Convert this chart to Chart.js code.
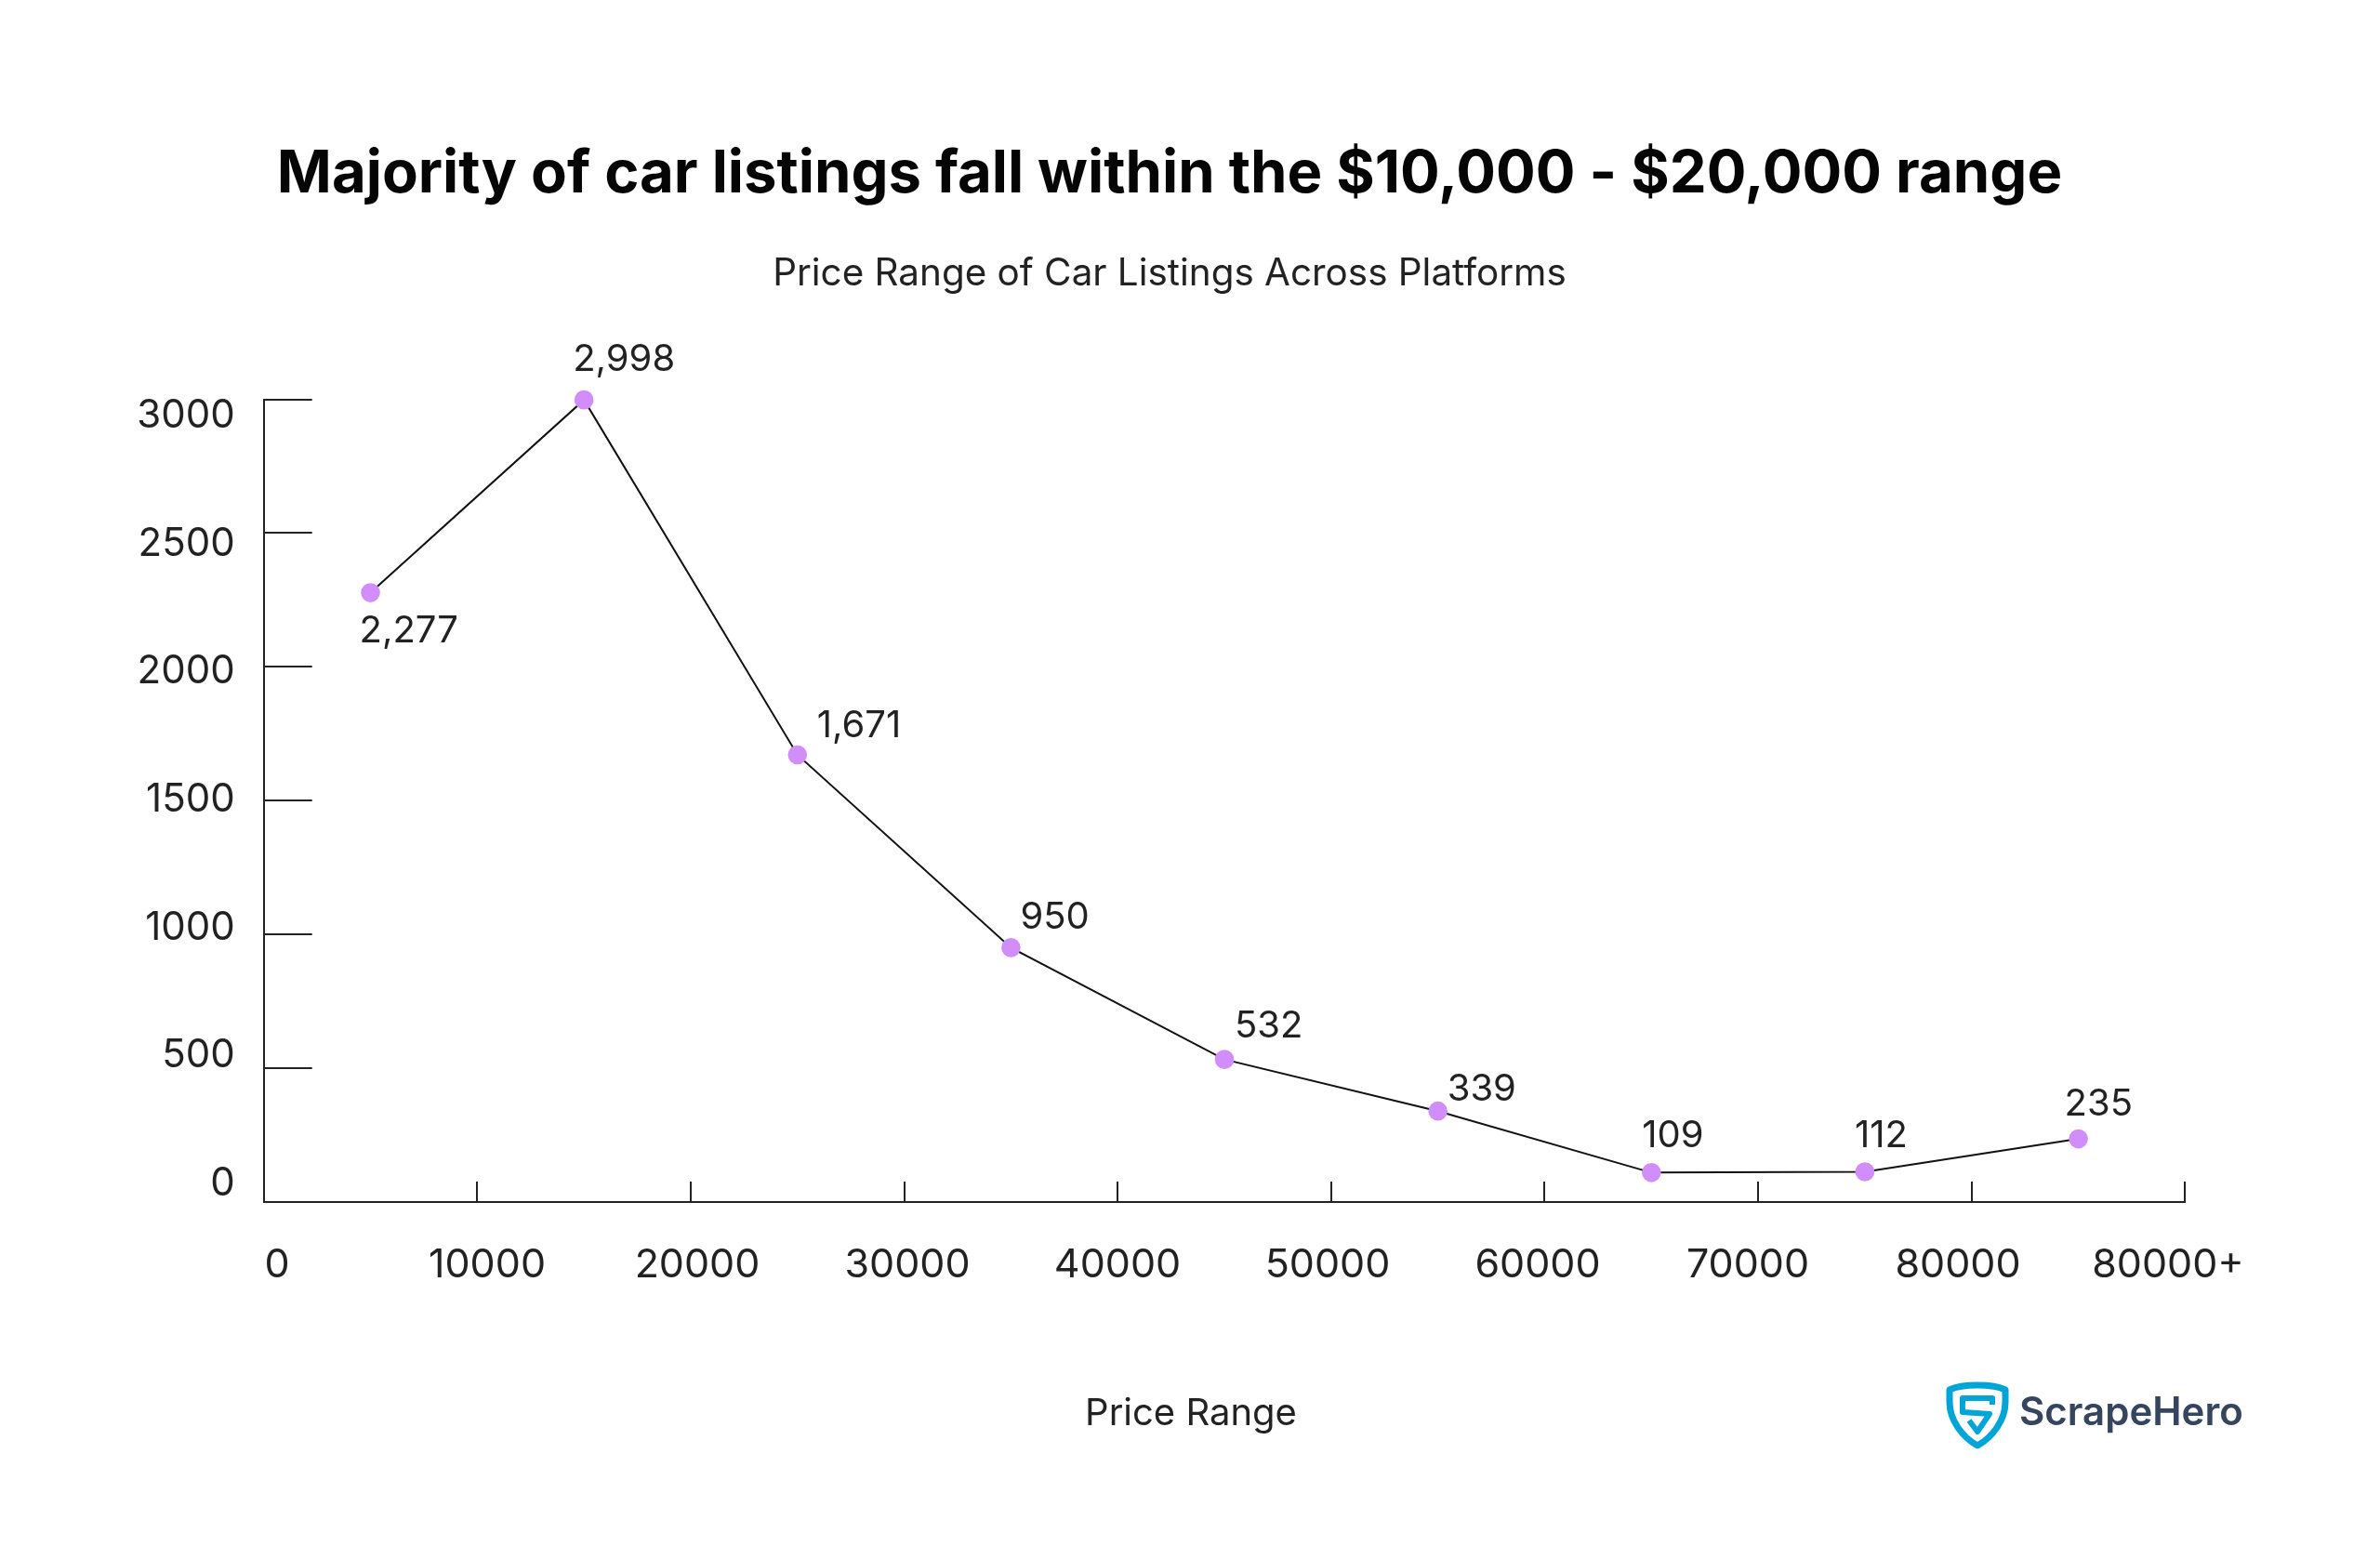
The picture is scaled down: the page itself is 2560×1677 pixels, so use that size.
<!DOCTYPE html>
<html><head><meta charset="utf-8">
<style>html,body{margin:0;padding:0;background:#fff}canvas{display:block}</style>
<script src="https://cdn.jsdelivr.net/npm/chart.js@4"></script>
</head><body><canvas id="c" width="2560" height="1677"></canvas>
<script>
const priceMidpoints = [5000,15000,25000,35000,45000,55000,65000,75000,85000];
const listingCounts = [2277,2998,1671,950,532,339,109,112,235];
const xTickLabels = ['0','10000','20000','30000','40000','50000','60000','70000','80000','80000+'];
const yTickValues = [0,500,1000,1500,2000,2500,3000];
const titleText = 'Majority of car listings fall within the $10,000 - $20,000 range';
const subtitleText = 'Price Range of Car Listings Across Platforms';
const xAxisTitle = 'Price Range';
const brandName = 'ScrapeHero';

// per-label nudges of the value labels relative to their points: [left edge dx, centre dy]
const labelNudges = [[-12,41],[-12,-43],[21,-31],[10,-32],[11,-36],[10,-23],[-10,-39],[-11,-39],[-15,-37]];

const FONT = 'Inter, sans-serif';
const INK = '#222222';

const overlay = {
  id:'overlay',
  afterDatasetsDraw(chart){
    const ctx = chart.ctx, meta = chart.getDatasetMeta(0);
    ctx.save();
    ctx.fillStyle = INK;
    ctx.font = '400 40px '+FONT;
    ctx.textAlign = 'left'; ctx.textBaseline = 'middle';
    meta.data.forEach((pt,i)=>{
      ctx.fillText(listingCounts[i].toLocaleString('en-US'), pt.x+labelNudges[i][0], pt.y+labelNudges[i][1]);
    });
    ctx.textAlign = 'center';
    ctx.fillText(xAxisTitle, 1281, 1521);
    // brand mark
    ctx.translate(2093,1486);
    ctx.strokeStyle = '#00a5d8'; ctx.lineWidth = 7; ctx.lineJoin = 'round';
    ctx.beginPath();
    ctx.moveTo(34,4); ctx.bezierCurveTo(48,4,58,6,64,9); ctx.lineTo(64,22);
    ctx.bezierCurveTo(64,42,50,60,34,69); ctx.bezierCurveTo(18,60,4,42,4,22);
    ctx.lineTo(4,9); ctx.bezierCurveTo(10,6,20,4,34,4); ctx.closePath(); ctx.stroke();
    ctx.lineWidth = 6;
    ctx.beginPath();
    ctx.moveTo(50,25); ctx.lineTo(50,18); ctx.lineTo(18,18); ctx.lineTo(18,33);
    ctx.lineTo(47,35); ctx.lineTo(34,54); ctx.lineTo(25,42); ctx.stroke();
    ctx.translate(-2093,-1486);
    ctx.fillStyle = '#34455d'; ctx.font = '600 42px '+FONT;
    ctx.textAlign = 'left'; ctx.textBaseline = 'alphabetic';
    ctx.fillText(brandName, 2172, 1533);
    ctx.restore();
  }
};

new Chart(document.getElementById('c'),{
  type:'line',
  data:{datasets:[{
    data:priceMidpoints.map((x,i)=>({x,y:listingCounts[i]})),
    borderColor:'#111111', borderWidth:2, tension:0, clip:false,
    pointRadius:10.3, pointBackgroundColor:'#d18dfa', pointBorderWidth:0
  }]},
  options:{
    responsive:false, animation:false, devicePixelRatio:1,
    layout:{padding:{left:83.7,right:127.7,top:149,bottom:184.3}},
    plugins:{
      legend:{display:false}, tooltip:{enabled:false},
      title:{display:true,text:titleText,color:'#050505',font:{family:FONT,size:63.4,weight:'700'},padding:{top:1,bottom:44}},
      subtitle:{display:true,text:subtitleText,color:INK,font:{family:FONT,size:40.4,weight:'400'},padding:{top:1,bottom:110}}
    },
    scales:{
      x:{type:'linear',position:'bottom',min:0,max:90000,
        ticks:{display:false,stepSize:10000},
        grid:{drawOnChartArea:false,tickLength:-21.7,color:INK,lineWidth:2},
        border:{color:INK,width:2},
        afterFit:s=>{s.height=0}},
      y:{type:'linear',position:'left',min:0,max:3000,
        ticks:{display:false,stepSize:500},
        grid:{drawOnChartArea:false,tickLength:-52,color:INK,lineWidth:2},
        border:{color:INK,width:2},
        afterFit:s=>{s.width=0}},
      xLabels:{type:'linear',position:'bottom',weight:5,min:-633,max:90814,
        afterBuildTicks:s=>{s.ticks=xTickLabels.map((_,i)=>({value:i*10000}))},
        ticks:{autoSkip:false,maxRotation:0,minRotation:0,padding:43,color:INK,font:{family:FONT,size:43},
          callback:(v,i)=>xTickLabels[i]},
        grid:{display:false,drawTicks:false},border:{display:false},
        afterFit:s=>{s.height=200}},
      yLabels:{type:'linear',position:'left',weight:5,min:-71.5,max:3065.5,
        afterBuildTicks:s=>{s.ticks=yTickValues.map(value=>({value}))},
        ticks:{autoSkip:false,padding:31,color:INK,font:{family:FONT,size:42},
          callback:v=>String(v)},
        grid:{display:false,drawTicks:false},border:{display:false},
        afterFit:s=>{s.width=200}},
      rightGutter:{type:'linear',position:'right',display:true,
        ticks:{display:false},grid:{display:false,drawTicks:false},border:{display:false},
        afterFit:s=>{s.width=81.9}}
    }
  },
  plugins:[overlay]
});
</script></body></html>
